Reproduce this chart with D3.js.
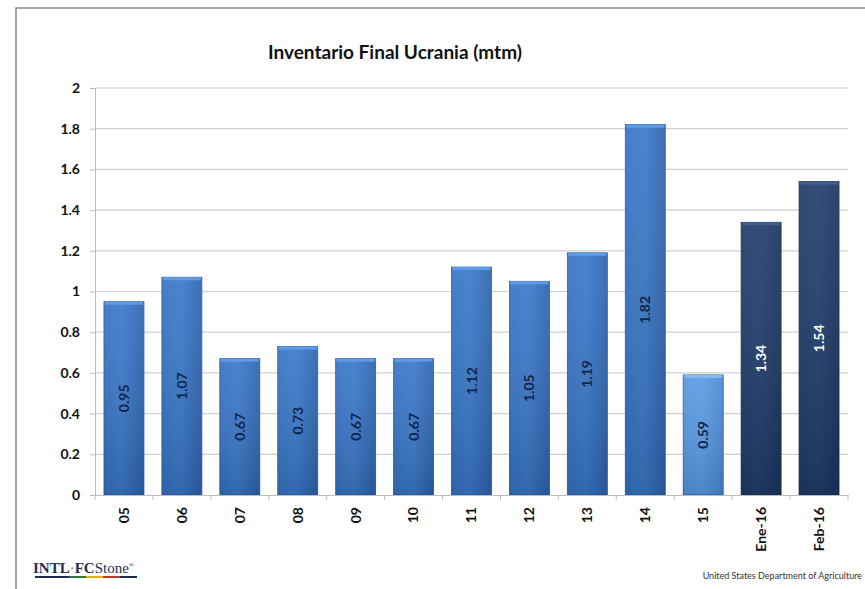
<!DOCTYPE html>
<html><head><meta charset="utf-8">
<script src="https://cdn.jsdelivr.net/npm/d3@7"></script>
<style>body{margin:0;background:#fff}svg{display:block}</style>
</head><body>
<svg id="c" width="865" height="589"></svg>
<script>
const categories = ["05","06","07","08","09","10","11","12","13","14","15","Ene-16","Feb-16"];
const values = [0.95,1.07,0.67,0.73,0.67,0.67,1.12,1.05,1.19,1.82,0.59,1.34,1.54];
const groups = ["hist","hist","hist","hist","hist","hist","hist","hist","hist","hist","cur","proj","proj"];
const yTicks = [0,0.2,0.4,0.6,0.8,1,1.2,1.4,1.6,1.8,2];
const title = "Inventario Final Ucrania (mtm)";
const source = "United States Department of Agriculture";

const svg = d3.select("#c");
const font = "Lato, 'Open Sans', sans-serif";
const m = {l:95, r:848, t:88, b:495};

// frame
svg.append("path").attr("d","M16,600 L16,8 L870,8").attr("fill","none").attr("stroke","#8a8a8a").attr("stroke-width",1.5);

const defs = svg.append("defs");
function grad(id, c1, c2, c3){
  const g = defs.append("linearGradient").attr("id",id).attr("x1","0").attr("x2","1").attr("y1","0").attr("y2","0");
  g.append("stop").attr("offset","0").attr("stop-color",c1);
  g.append("stop").attr("offset","0.45").attr("stop-color",c2);
  g.append("stop").attr("offset","1").attr("stop-color",c3);
}
grad("g-hist","#3672c2","#3b7acb","#2d63af");
grad("g-cur","#5596e0","#5b9de6","#4a88d2");
grad("g-proj","#1d3a66","#213f6e","#1a345e");
const vg = defs.append("linearGradient").attr("id","shade").attr("x1","0").attr("x2","0").attr("y1","0").attr("y2","1");
vg.append("stop").attr("offset","0").attr("stop-color","#fff").attr("stop-opacity",0.08);
vg.append("stop").attr("offset","1").attr("stop-color","#000").attr("stop-opacity",0.14);

const x = d3.scaleBand().domain(categories).range([m.l,m.r]).paddingInner(0.31).paddingOuter(0.155);
const y = d3.scaleLinear().domain([0,2]).range([m.b,m.t]);

// gridlines
svg.append("g").selectAll("line").data(yTicks.filter(d=>d>0)).join("line")
  .attr("x1",m.l).attr("x2",m.r).attr("y1",d=>y(d)).attr("y2",d=>y(d))
  .attr("stroke","#cfcfcf").attr("stroke-width",1.2);

// y axis
const ya = svg.append("g").attr("transform",`translate(${m.l},0)`)
  .call(d3.axisLeft(y).tickValues(yTicks).tickFormat(d3.format("~g")).tickSize(5).tickPadding(10));
ya.select(".domain").attr("stroke","#bdbdbd");
ya.selectAll(".tick line").attr("stroke","#bdbdbd");
ya.selectAll("text").attr("font-family",font).attr("font-weight","bold").attr("font-size",14).attr("fill","#111");

// bars
const colorFill = {hist:"url(#g-hist)",cur:"url(#g-cur)",proj:"url(#g-proj)"};
const capCol = {hist:"#5f9ce8",cur:"#86b9f0",proj:"#3d5f91"};
const bars = svg.append("g").selectAll("g").data(categories).join("g");
bars.append("rect").attr("x",d=>x(d)).attr("width",x.bandwidth())
  .attr("y",(d,i)=>y(values[i])).attr("height",(d,i)=>y(0)-y(values[i]))
  .attr("fill",(d,i)=>colorFill[groups[i]]).attr("stroke",(d,i)=>groups[i]==="proj"?"#172e52":"#2a5a9e").attr("stroke-width",0.8);
bars.append("rect").attr("x",d=>x(d)).attr("width",x.bandwidth())
  .attr("y",(d,i)=>y(values[i])).attr("height",(d,i)=>y(0)-y(values[i]))
  .attr("fill","url(#shade)");
bars.append("rect").attr("x",d=>x(d)+1).attr("width",x.bandwidth()-2)
  .attr("y",(d,i)=>y(values[i])).attr("height",3)
  .attr("fill",(d,i)=>capCol[groups[i]]);

// value labels
bars.append("text")
  .attr("transform",(d,i)=>`translate(${x(d)+x.bandwidth()/2+5},${(y(values[i])+y(0))/2}) rotate(-90)`)
  .attr("text-anchor","middle").attr("font-family",font).attr("font-weight","bold").attr("font-size",14)
  .attr("fill",(d,i)=>groups[i]==="proj"?"#ffffff":"#13254a")
  .text((d,i)=>d3.format(".2f")(values[i]));

// x axis
const xa = svg.append("g").attr("transform",`translate(0,${m.b})`)
  .call(d3.axisBottom(x).tickSize(0).tickPadding(12));
xa.select(".domain").attr("stroke","#bdbdbd");
xa.selectAll(".tick text").attr("font-family",font).attr("font-weight","bold").attr("font-size",14).attr("fill","#111")
  .attr("transform","rotate(-90)").attr("text-anchor","end").attr("dy","0.35em").attr("x",-12).attr("y",0);
// separator ticks between categories
const step = x.step();
svg.append("g").selectAll("line").data(d3.range(categories.length+1)).join("line")
  .attr("x1",i=>m.l+i*step).attr("x2",i=>m.l+i*step).attr("y1",m.b).attr("y2",m.b+5)
  .attr("stroke","#bdbdbd");

// title
svg.append("text").attr("x",395).attr("y",59).attr("text-anchor","middle")
  .attr("font-family",font).attr("font-weight","bold").attr("font-size",19).attr("fill","#111").text(title);

// footer
svg.append("text").attr("x",862).attr("y",579).attr("text-anchor","end")
  .attr("font-family",font).attr("font-size",9).attr("fill","#333").text(source);
const logo = svg.append("g");
const lt = logo.append("text").attr("x",33).attr("y",573).attr("font-family","'Liberation Serif', serif").attr("font-weight","bold").attr("font-size",15).attr("fill","#1f2d55");
lt.append("tspan").text("INTL");
lt.append("tspan").attr("font-weight","normal").attr("fill","#888").text("·");
lt.append("tspan").text("FC");
lt.append("tspan").attr("font-weight","normal").text("Stone");
lt.append("tspan").attr("font-weight","normal").attr("font-size",7).attr("dy",-6).text("®");
const lc = ["#1f2d55","#1f2d55","#2d7a3a","#e0b020","#c0392b","#1f2d55"];
logo.append("g").selectAll("rect").data(lc).join("rect")
  .attr("x",(d,i)=>35+i*17).attr("y",576).attr("width",17).attr("height",2).attr("fill",d=>d);
</script>
</body></html>
